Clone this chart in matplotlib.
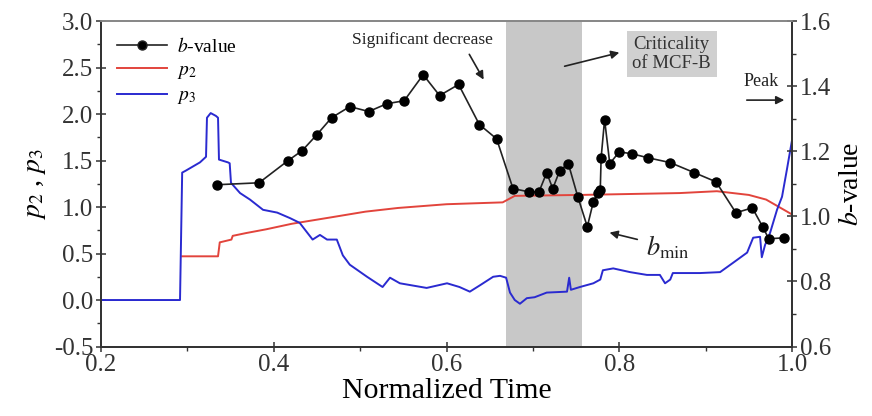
import matplotlib
matplotlib.use("Agg")
import matplotlib.pyplot as plt
from matplotlib.lines import Line2D
from matplotlib.ticker import MultipleLocator

plt.rcParams['font.family'] = ['Liberation Serif', 'DejaVu Serif']
plt.rcParams['mathtext.fontset'] = 'stix'

# b-value series
b_time = [0.334, 0.383, 0.4165, 0.433, 0.450, 0.467, 0.488, 0.510, 0.531, 0.551,
          0.573, 0.592, 0.614, 0.638, 0.658, 0.677, 0.696, 0.707, 0.716, 0.723,
          0.731, 0.741, 0.752, 0.763, 0.770, 0.775, 0.778, 0.779, 0.783, 0.789,
          0.800, 0.815, 0.833, 0.859, 0.887, 0.912, 0.935, 0.954, 0.966, 0.973, 0.991]
b_value = [1.097, 1.103, 1.171, 1.202, 1.251, 1.303, 1.337, 1.322, 1.346, 1.355,
           1.435, 1.371, 1.405, 1.282, 1.238, 1.085, 1.075, 1.075, 1.134, 1.085,
           1.140, 1.162, 1.060, 0.968, 1.045, 1.072, 1.082, 1.180, 1.297, 1.162,
           1.198, 1.192, 1.180, 1.165, 1.134, 1.106, 1.011, 1.026, 0.968, 0.931, 0.934]

# p2 series
p2_time = [0.294, 0.3355, 0.3375, 0.351, 0.3525, 0.368, 0.391, 0.421, 0.467, 0.506,
           0.544, 0.600, 0.665, 0.679, 0.755, 0.870, 0.913, 0.950, 0.970, 0.985, 1.0]
p2_value = [0.47, 0.47, 0.62, 0.65, 0.69, 0.72, 0.76, 0.82, 0.89, 0.95,
            0.99, 1.03, 1.05, 1.12, 1.13, 1.15, 1.17, 1.13, 1.08, 1.00, 0.92]

# p3 series
p3_time = [0.2, 0.2915, 0.294, 0.298, 0.3146, 0.3216, 0.3227, 0.327, 0.333, 0.3355,
           0.3366, 0.347, 0.349, 0.3505, 0.361, 0.3725, 0.3876, 0.404, 0.419, 0.430,
           0.445, 0.4535, 0.4617, 0.473, 0.480, 0.488, 0.508, 0.526, 0.5346, 0.546,
           0.577, 0.6006, 0.615, 0.627, 0.639, 0.654, 0.662, 0.669, 0.6735, 0.679,
           0.685, 0.693, 0.702, 0.716, 0.7395, 0.742, 0.744, 0.7545, 0.770, 0.778,
           0.781, 0.793, 0.8125, 0.832, 0.847, 0.853, 0.859, 0.862, 0.8935, 0.9167,
           0.9317, 0.948, 0.955, 0.963, 0.965, 0.9687, 0.9745, 0.9826, 0.9884, 0.994, 1.0]
p3_value = [0.0, 0.0, 1.37, 1.39, 1.48, 1.54, 1.96, 2.01, 1.98, 1.96,
            1.51, 1.48, 1.47, 1.26, 1.15, 1.08, 0.97, 0.94, 0.88, 0.83,
            0.65, 0.70, 0.65, 0.65, 0.48, 0.38, 0.25, 0.14, 0.24, 0.18,
            0.13, 0.18, 0.14, 0.09, 0.16, 0.25, 0.26, 0.24, 0.08, 0.0,
            -0.04, 0.02, 0.03, 0.08, 0.09, 0.24, 0.11, 0.14, 0.18, 0.22,
            0.32, 0.34, 0.30, 0.27, 0.27, 0.18, 0.22, 0.29, 0.29, 0.30,
            0.40, 0.51, 0.67, 0.68, 0.46, 0.59, 0.72, 0.97, 1.11, 1.40, 1.72]

band = [0.669, 0.757]

red = '#e2443c'
blue = '#2a2ad0'

fig = plt.figure(figsize=(8.72, 4.16), dpi=100)
ax = fig.add_axes([0.1158, 0.167, 0.7925, 0.7825])
ax2 = ax.twinx()

ax.axvspan(band[0], band[1], color='#c8c8c8', zorder=0, lw=0)
ax.plot(p2_time, p2_value, color=red, lw=1.4, zorder=2)
ax.plot(p3_time, p3_value, color=blue, lw=1.4, zorder=2)
ax2.plot(b_time, b_value, color='#222222', lw=1.2, marker='o', ms=6.5,
         mfc='black', mec='black', zorder=3)

ax.set_xlim(0.2, 1.0)
ax.set_ylim(-0.5, 3.0)
ax2.set_ylim(0.6, 1.6)
ax.xaxis.set_major_locator(MultipleLocator(0.2))
ax.xaxis.set_minor_locator(MultipleLocator(0.1))
ax.yaxis.set_major_locator(MultipleLocator(0.5))
ax.yaxis.set_minor_locator(MultipleLocator(0.25))
ax2.yaxis.set_major_locator(MultipleLocator(0.2))
ax2.yaxis.set_minor_locator(MultipleLocator(0.1))
ax.xaxis.set_major_formatter(plt.FormatStrFormatter('%.1f'))
ax.yaxis.set_major_formatter(plt.FormatStrFormatter('%.1f'))
ax2.yaxis.set_major_formatter(plt.FormatStrFormatter('%.1f'))

for a in (ax, ax2):
    a.tick_params(which='major', direction='inout', length=7, width=1.1,
                  labelsize=18, colors='#333333', pad=2)
    a.tick_params(which='minor', direction='out', length=3, width=1.0, colors='#333333')
    for s in a.spines.values():
        s.set_linewidth(1.3)
        s.set_color('#333333')
ax.spines['top'].set_color('#888888')
ax2.spines['top'].set_color('#888888')

ax.set_xlabel('Normalized Time', fontsize=21.5, labelpad=1)
ax.set_ylabel('$p_2$ , $p_3$', fontsize=20, labelpad=4)
ax2.set_ylabel('$b$-value', fontsize=20, labelpad=6)

handles = [Line2D([], [], color='#222222', lw=1.2, marker='o', ms=6.5, mfc='black'),
           Line2D([], [], color=red, lw=1.4),
           Line2D([], [], color=blue, lw=1.4)]
labels = ['$b$-value', '$p_2$', '$p_3$']
ax2.legend(handles, labels, loc='upper left', frameon=False, fontsize=14,
           handlelength=2.6, handletextpad=0.5, labelspacing=0.3,
           bbox_to_anchor=(0.0, 1.0), borderaxespad=0.4)

arrow = dict(arrowstyle='-|>', color='#222222', lw=1.2, mutation_scale=12)
ax2.text(0.4645, 0.942, 'Significant decrease', transform=ax2.transAxes,
         ha='center', va='center', fontsize=12.5, color='#222222')
ax2.annotate('', xy=(0.5557, 0.8126), xytext=(0.531, 0.905),
             xycoords='axes fraction', textcoords='axes fraction', arrowprops=arrow)
ax2.text(0.826, 0.899, 'Criticality\nof MCF-B', transform=ax2.transAxes,
         ha='center', va='center', fontsize=13.5, color='#333333', linespacing=1.1,
         bbox=dict(boxstyle='square,pad=0.3', fc='#d0d0d0', ec='none'))
ax2.annotate('', xy=(0.754, 0.905), xytext=(0.667, 0.859),
             xycoords='axes fraction', textcoords='axes fraction', arrowprops=arrow)
ax2.text(0.955, 0.815, 'Peak', transform=ax2.transAxes,
         ha='center', va='center', fontsize=13, color='#222222')
ax2.annotate('', xy=(0.9928, 0.757), xytext=(0.9305, 0.757),
             xycoords='axes fraction', textcoords='axes fraction', arrowprops=arrow)
ax2.text(0.789, 0.306, '$b_{\\mathrm{min}}$', transform=ax2.transAxes,
         ha='left', va='center', fontsize=19, color='#222222')
ax2.annotate('', xy=(0.732, 0.352), xytext=(0.780, 0.327),
             xycoords='axes fraction', textcoords='axes fraction', arrowprops=arrow)

fig.savefig('out.png', dpi=100)
